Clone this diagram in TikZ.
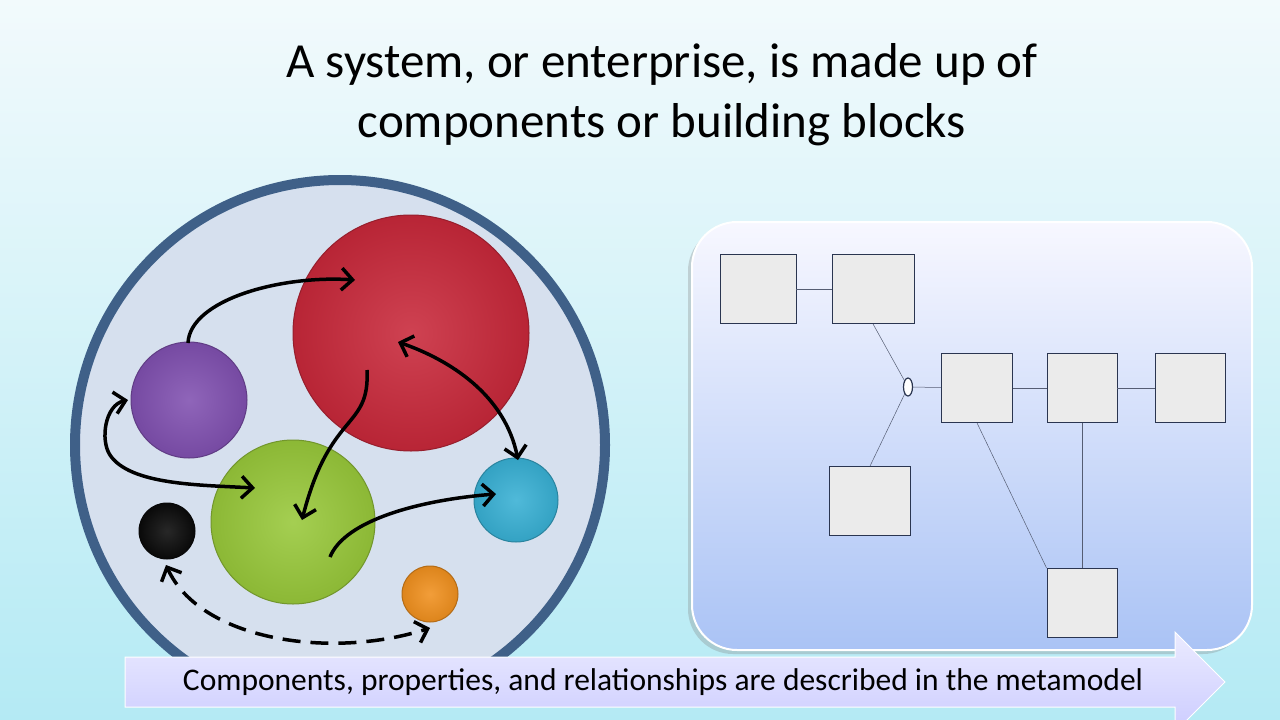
\documentclass[tikz,border=0pt]{standalone}
\usepackage{fontspec}
\setmainfont{Carlito}
\usetikzlibrary{arrows.meta,shadows,shapes.geometric}
\definecolor{bgtop}{HTML}{F2FAFC}
\definecolor{bgbot}{HTML}{B4EAF4}
\definecolor{ring}{HTML}{3F6088}
\definecolor{disc}{HTML}{D6E0EE}
\definecolor{boxfill}{HTML}{EBEBEB}
\definecolor{boxline}{HTML}{2A3550}
\definecolor{cred}{HTML}{C8283A}
\definecolor{cpur}{HTML}{8050B0}
\definecolor{cgrn}{HTML}{98C83A}
\definecolor{ccya}{HTML}{38B0D4}
\definecolor{cblk}{HTML}{0A0A0A}
\definecolor{corg}{HTML}{F0901E}
\tikzset{
  ball/.style={circle,draw=#1!75!black,line width=1pt,inner sep=0pt,inner color=#1!88!white,outer color=#1!92!black},
  rel/.style={-{Straight Barb[length=11pt,width=22pt]},line width=3.5pt,black},
  relb/.style={{Straight Barb[length=11pt,width=22pt]}-{Straight Barb[length=11pt,width=22pt]},line width=3.5pt,black},
  cbox/.style={draw=boxline,fill=boxfill,line width=0.8pt,inner sep=0pt},
  link/.style={draw=boxline!80,line width=0.5pt}
}
\begin{document}
\begin{tikzpicture}[x=1pt,y=-1pt]
\useasboundingbox (0,0) rectangle (1280,720);
\shade[top color=bgtop,bottom color=bgbot] (0,0) rectangle (1280,720);
\node[font=\fontsize{49}{60}\selectfont,align=center] (title) at (662,95) {A system, or enterprise, is made up of\\components or building blocks};
% left disc
\begin{scope}
\clip (0,0) rectangle (1280,660);
\draw[ring,line width=10pt,fill=disc] (340,445) circle (265);
\end{scope}
\node[ball=cred,minimum size=236pt] (red) at (411,333) {};
\node[ball=cpur,minimum size=116pt] (purple) at (189,400) {};
\node[ball=cgrn,minimum size=164pt] (green) at (293,522) {};
\node[ball=ccya,minimum size=84pt] (cyan) at (516,500) {};
\node[ball=cblk,minimum size=56pt] (blk) at (167,531) {};
\node[ball=corg,minimum size=56pt] (orng) at (430,594) {};
\coordinate (p1) at (188,343);
\coordinate (r1) at (355,280);
\coordinate (r2) at (367,370);
\coordinate (g1) at (302,520);
\coordinate (r3) at (398,342);
\coordinate (c1) at (518,460);
\coordinate (p2) at (128,400);
\coordinate (g2) at (255,488);
\coordinate (g3) at (330,557);
\coordinate (c2) at (496,494);
\coordinate (b1) at (166,565);
\coordinate (o1) at (430,628);
\draw[rel] (p1) .. controls (190,300) and (280,275) .. (r1);
\draw[rel] (r2) .. controls (370,430) and (330,410) .. (g1);
\draw[relb] (r3) .. controls (450,360) and (505,395) .. (c1);
\draw[relb] (p2) .. controls (105,405) and (100,440) .. (110,455) .. controls (130,485) and (200,485) .. (g2);
\draw[rel] (g3) .. controls (345,520) and (420,500) .. (c2);
\draw[relb,dashed,dash pattern=on 18pt off 10pt] (b1) .. controls (200,640) and (330,660) .. (o1);
% right panel
\node[draw=white,line width=2pt,rounded corners=45pt,minimum width=560pt,minimum height=428pt,
  top color=blue!3!white,bottom color={rgb,255:red,170;green,195;blue,245},drop shadow={shadow xshift=-4pt,shadow yshift=-4pt,opacity=0.3}] (panel) at (972,436) {};
\node[cbox,minimum width=76pt,minimum height=69pt] (b1n) at (758,289) {};
\node[cbox,minimum width=82pt,minimum height=69pt] (b2n) at (873,289) {};
\node[cbox,minimum width=71pt,minimum height=69pt] (b3n) at (977,388) {};
\node[cbox,minimum width=70pt,minimum height=69pt] (b4n) at (1082,388) {};
\node[cbox,minimum width=70pt,minimum height=69pt] (b5n) at (1190,388) {};
\node[cbox,minimum width=81pt,minimum height=69pt] (b6n) at (870,501) {};
\node[cbox,minimum width=70pt,minimum height=69pt] (b7n) at (1082,603) {};
\node[ellipse,draw=boxline,fill=white,line width=1.2pt,minimum width=9pt,minimum height=18pt,inner sep=0pt] (jn) at (908,387) {};
\draw[link] (b1n) -- (b2n);
\draw[link] (b2n.south) -- (jn);
\draw[link] (jn) -- (b3n);
\draw[link] (jn) -- (b6n.north);
\draw[link] (b3n) -- (b4n);
\draw[link] (b4n) -- (b5n);
\draw[link] (b3n.south) -- (b7n.north west);
\draw[link] (b4n) -- (b7n);
% banner
\shade[top color=blue!8!white,bottom color=blue!20!white,draw=white,line width=1pt]
  (125,657) -- (1175,657) -- (1175,632) -- (1225,682) -- (1175,732) -- (1175,707) -- (125,707) -- cycle;
\node[font=\fontsize{31.5}{36}\selectfont] (banner) at (663,682) {Components, properties, and relationships are described in the metamodel};
\end{tikzpicture}
\end{document}
